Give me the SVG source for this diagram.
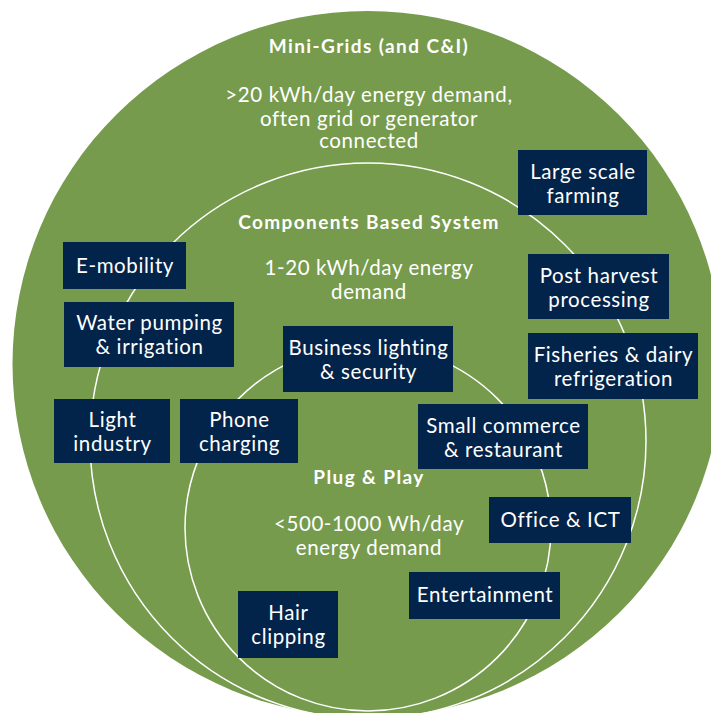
<svg xmlns="http://www.w3.org/2000/svg" width="711" height="713" viewBox="0 0 711 713">
  <style>
    .ring { fill: none; stroke: #ffffff; stroke-width: 1.5; }
    .box { fill: #03244a; }
    .lbl, .sub { fill: #ffffff; font-family: Lato, "Open Sans", sans-serif; font-size: 20.5px; letter-spacing: 0.6px; text-anchor: middle; }
    .hd { fill: #ffffff; font-family: Lato, "Open Sans", sans-serif; font-size: 19px; font-weight: bold; letter-spacing: 1.4px; text-anchor: middle; }
  </style>
  <rect width="711" height="713" fill="#ffffff"/>

  <!-- nested demand tiers -->
  <g id="tiers">
    <ellipse cx="367.5" cy="364" rx="355" ry="353" fill="#769b4d"/>
    <circle class="ring" cx="368" cy="441" r="278"/>
    <circle class="ring" cx="368" cy="528" r="183"/>
  </g>

  <!-- tier captions -->
  <g id="tier-minigrid">
    <text class="hd" x="369" y="53">Mini-Grids (and C&amp;I)</text>
    <text class="sub" x="369" y="102">&gt;20 kWh/day energy demand,</text>
    <text class="sub" x="369" y="126">often grid or generator</text>
    <text class="sub" x="369" y="148">connected</text>
  </g>
  <g id="tier-components">
    <text class="hd" x="369" y="229">Components Based System</text>
    <text class="sub" x="369" y="275">1-20 kWh/day energy</text>
    <text class="sub" x="369" y="299">demand</text>
  </g>
  <g id="tier-plugplay">
    <text class="hd" x="369" y="484">Plug &amp; Play</text>
    <text class="sub" x="369" y="531">&lt;500-1000 Wh/day</text>
    <text class="sub" x="369" y="555">energy demand</text>
  </g>

  <!-- use cases -->
  <g id="large-scale-farming">
    <rect class="box" x="518" y="150" width="129" height="65"/>
    <text class="lbl" x="583" y="179">Large scale</text>
    <text class="lbl" x="583" y="203">farming</text>
  </g>
  <g id="post-harvest">
    <rect class="box" x="528" y="254" width="141" height="65"/>
    <text class="lbl" x="599" y="283">Post harvest</text>
    <text class="lbl" x="599" y="307">processing</text>
  </g>
  <g id="fisheries-dairy">
    <rect class="box" x="528" y="333" width="170" height="66"/>
    <text class="lbl" x="613.5" y="362">Fisheries &amp; dairy</text>
    <text class="lbl" x="613.5" y="386">refrigeration</text>
  </g>
  <g id="e-mobility">
    <rect class="box" x="63" y="242" width="123" height="47"/>
    <text class="lbl" x="125" y="273">E-mobility</text>
  </g>
  <g id="water-pumping">
    <rect class="box" x="64" y="302" width="170" height="65"/>
    <text class="lbl" x="149.5" y="330">Water pumping</text>
    <text class="lbl" x="149.5" y="354">&amp; irrigation</text>
  </g>
  <g id="light-industry">
    <rect class="box" x="54" y="399" width="116" height="64"/>
    <text class="lbl" x="112.5" y="427">Light</text>
    <text class="lbl" x="112.5" y="451">industry</text>
  </g>
  <g id="phone-charging">
    <rect class="box" x="180" y="399" width="118" height="64"/>
    <text class="lbl" x="239.5" y="427">Phone</text>
    <text class="lbl" x="239.5" y="451">charging</text>
  </g>
  <g id="business-lighting">
    <rect class="box" x="283" y="326" width="170" height="66"/>
    <text class="lbl" x="368.5" y="355">Business lighting</text>
    <text class="lbl" x="368.5" y="379">&amp; security</text>
  </g>
  <g id="small-commerce">
    <rect class="box" x="418" y="404" width="170" height="65"/>
    <text class="lbl" x="503.5" y="433">Small commerce</text>
    <text class="lbl" x="503.5" y="457">&amp; restaurant</text>
  </g>
  <g id="office-ict">
    <rect class="box" x="489" y="497" width="142" height="46"/>
    <text class="lbl" x="560.5" y="527">Office &amp; ICT</text>
  </g>
  <g id="entertainment">
    <rect class="box" x="409" y="572" width="151" height="47"/>
    <text class="lbl" x="485" y="602">Entertainment</text>
  </g>
  <g id="hair-clipping">
    <rect class="box" x="238" y="591" width="100" height="67"/>
    <text class="lbl" x="288.5" y="620">Hair</text>
    <text class="lbl" x="288.5" y="644">clipping</text>
  </g>

  <!-- no connectors in this figure -->
  <g id="connectors"/>
</svg>
